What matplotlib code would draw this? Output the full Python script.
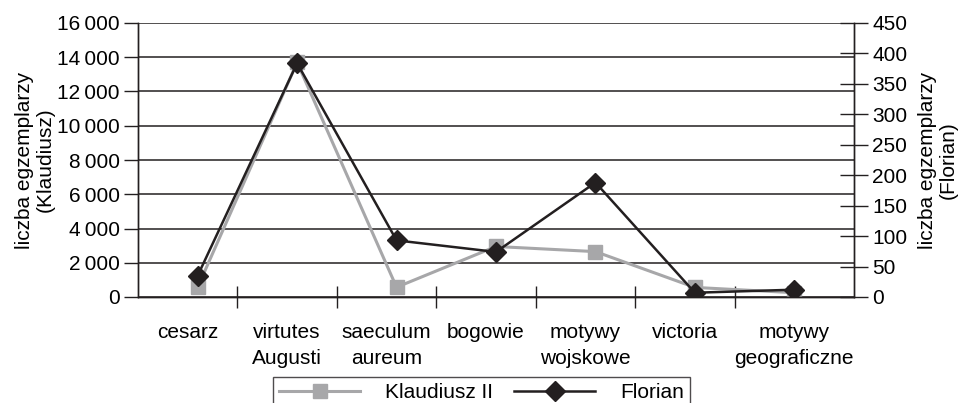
import matplotlib
matplotlib.use('Agg')
import matplotlib.pyplot as plt
from matplotlib.ticker import FixedLocator, FuncFormatter

plt.rcParams['font.family'] = ['Liberation Sans', 'DejaVu Sans']
plt.rcParams['font.size'] = 15

# Data
categories = ['cesarz', 'virtutes\nAugusti', 'saeculum\naureum', 'bogowie',
              'motywy\nwojskowe', 'victoria', 'motywy\ngeograficzne']
klaudiusz = [570, 13700, 570, 2950, 2650, 560, 250]
florian = [35, 384, 93, 74, 188, 7, 12]

GRAY = '#a7a7a9'
BLACK = '#231f20'

fig = plt.figure(figsize=(9.63, 4.03), dpi=100)
ax = fig.add_axes([138 / 963, 106 / 403, 716 / 963, 274 / 403])
ax2 = ax.twinx()

x = list(range(len(categories)))

# Left axis - Klaudiusz II
line1, = ax.plot(x, klaudiusz, color=GRAY, lw=2.2, marker='s', markersize=10,
                 markerfacecolor=GRAY, markeredgecolor=GRAY, label='Klaudiusz II')
ax.set_ylim(0, 16000)
ax.set_yticks(range(0, 16001, 2000))
ax.yaxis.set_major_formatter(FuncFormatter(lambda v, p: '{:,}'.format(int(v)).replace(',', '\u2009')))
ax.grid(axis='y', color=BLACK, lw=1.1)
ax.set_axisbelow(True)
ax.tick_params(axis='y', direction='out', length=10, width=1, color=BLACK, pad=3)
ax.set_ylabel('liczba egzemplarzy\n(Klaudiusz)', labelpad=2, linespacing=1.1)

# Right axis - Florian
line2, = ax2.plot(x, florian, color=BLACK, lw=1.8, marker='D', markersize=10,
                  markerfacecolor=BLACK, markeredgecolor=BLACK, label='Florian')
ax2.set_ylim(0, 450)
ax2.set_yticks(range(0, 451, 50))
ax2.tick_params(axis='y', direction='inout', length=20, width=1, color=BLACK, pad=3)
ax2.set_ylabel('liczba egzemplarzy\n(Florian)', labelpad=8, linespacing=1.1)

# Category axis: boundary ticks, labels between them
ax.set_xlim(-0.6, 6.6)
ax.xaxis.set_major_locator(FixedLocator([i + 0.4 for i in range(6)]))
ax.xaxis.set_major_formatter(FuncFormatter(lambda v, p: ''))
ax.xaxis.set_minor_locator(FixedLocator([-0.1, 0.9, 1.9, 2.9, 3.9, 4.9, 6.0]))
ax.set_xticklabels(categories, minor=True, linespacing=1.45)
ax.tick_params(axis='x', which='major', direction='inout', length=16, width=1, color=BLACK)
ax.tick_params(axis='x', which='minor', length=0, pad=19)

for a in (ax, ax2):
    for s in a.spines.values():
        s.set_color(BLACK)
        s.set_linewidth(1)
    a.spines['top'].set_visible(False)

leg = fig.legend(handles=[line1, line2], ncol=2, loc='upper center',
                 bbox_to_anchor=(0.5, 1 - 377 / 403), borderaxespad=0,
                 frameon=True, fancybox=False, handlelength=3.9,
                 columnspacing=1.0, borderpad=0.3, handletextpad=1.2)
leg.get_frame().set_edgecolor(BLACK)
leg.get_frame().set_linewidth(1)

plt.savefig('out.png', dpi=100)
